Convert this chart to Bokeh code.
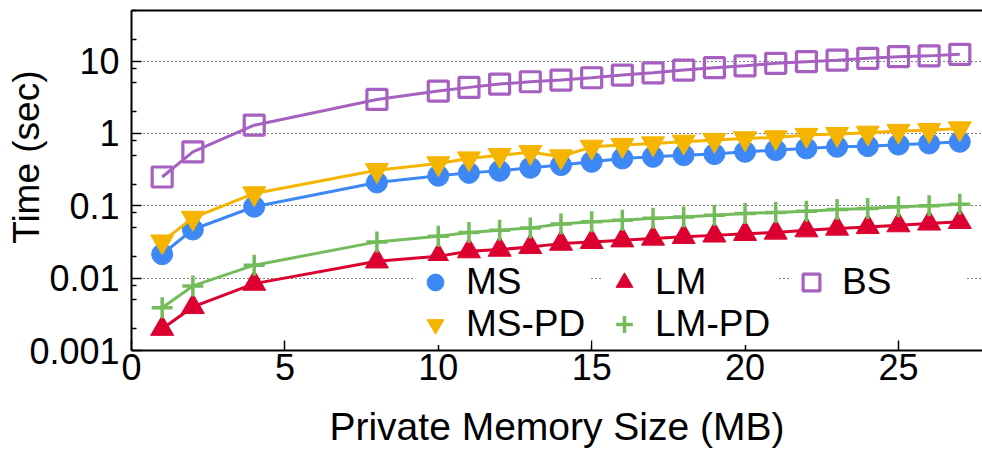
from bokeh.plotting import figure
from bokeh.models import Range1d, FixedTicker, LinearAxis, Legend, LegendItem, Title
from bokeh.embed import file_html
from bokeh.resources import INLINE

# ---- data ----
x_mb = [1, 2, 4, 8, 10, 11, 12, 13, 14, 15, 16, 17, 18, 19, 20, 21, 22, 23, 24, 25, 26, 27]
ms = [0.0214, 0.047, 0.097, 0.21, 0.26, 0.285, 0.304, 0.335, 0.365, 0.405, 0.45,
      0.475, 0.50, 0.518, 0.557, 0.588, 0.62, 0.653, 0.667, 0.70, 0.726, 0.766]
ms_pd = [0.032, 0.068, 0.148, 0.31, 0.385, 0.45, 0.50, 0.55, 0.48, 0.653, 0.69,
         0.726, 0.766, 0.81, 0.853, 0.88, 0.95, 0.98, 1.02, 1.08, 1.11, 1.17]
lm = [0.0020, 0.0040, 0.0084, 0.0171, 0.020, 0.0236, 0.0248, 0.027, 0.030, 0.0317, 0.0334,
      0.0353, 0.0372, 0.039, 0.041, 0.0427, 0.046, 0.0485, 0.051, 0.054, 0.057, 0.060]
lm_pd = [0.0039, 0.0078, 0.0151, 0.0317, 0.038, 0.0427, 0.046, 0.0495, 0.056, 0.060, 0.063,
         0.067, 0.070, 0.074, 0.078, 0.081, 0.084, 0.089, 0.092, 0.097, 0.100, 0.105]
bs = [0.25, 0.557, 1.30, 2.95, 3.85, 4.33, 4.81, 5.18, 5.46, 5.88, 6.4,
      6.88, 7.5, 8.1, 8.6, 9.3, 9.8, 10.3, 10.9, 11.5, 11.8, 12.4]

series_names = ["MS", "MS-PD", "LM", "LM-PD", "BS"]
x_ticks = [0, 5, 10, 15, 20, 25]
y_ticks = [0.001, 0.01, 0.1, 1, 10]
y_tick_labels = ["0.001", "0.01", "0.1", "1", "10"]
y_minor_ticks = [0.002, 0.005, 0.008, 0.02, 0.05, 0.08, 0.2, 0.5, 0.8,
                 2, 5, 8, 20, 50]
x_label = "Private Memory Size (MB)"
y_label = "Time (sec)"

FONT = "Liberation Sans"
FS_TICK = "36px"
FS_LEG = "37px"
FS_XLAB = "39px"
FS_YLAB = "37px"
C_MS = "#3d88f5"
C_MSPD = "#f5b400"
C_LM = "#dc0030"
C_LMPD = "#74bc5b"
C_BS = "#a660c0"

p = figure(width=982, height=450, output_backend="svg", toolbar_location=None,
           x_range=Range1d(0, 27.74), y_range=Range1d(0.001, 50), y_axis_type="log",
           min_border_left=131, min_border_right=0, min_border_top=10, min_border_bottom=100)
p.outline_line_color = None
p.background_fill_color = "white"
p.border_fill_color = "white"

# x axis
xa = p.xaxis[0]
xa.ticker = FixedTicker(ticks=x_ticks)
xa.major_tick_in = 10
xa.major_tick_out = 0
xa.minor_tick_in = 0
xa.minor_tick_out = 0
xa.major_tick_line_width = 1.5
xa.major_tick_line_color = "black"
xa.axis_line_width = 2
xa.axis_line_color = "black"
xa.major_label_standoff = 3
xa.major_label_text_font = FONT
xa.major_label_text_font_size = FS_TICK
xa.major_label_text_color = "black"
xa.axis_label = x_label
xa.axis_label_text_font = FONT
xa.axis_label_text_font_size = FS_XLAB
xa.axis_label_text_font_style = "normal"
xa.axis_label_text_color = "black"
xa.axis_label_text_line_height = 1.0
xa.axis_label_standoff = 22

# y axis
ya = p.yaxis[0]
ya.ticker = FixedTicker(ticks=y_ticks, minor_ticks=y_minor_ticks)
ya.major_label_overrides = dict(zip(y_ticks, y_tick_labels))
ya.major_tick_in = 10
ya.major_tick_out = 0
ya.minor_tick_in = 5
ya.minor_tick_out = 0
ya.major_tick_line_width = 1.5
ya.minor_tick_line_width = 1.5
ya.major_tick_line_color = "black"
ya.minor_tick_line_color = "black"
ya.axis_line_width = 2
ya.axis_line_color = "black"
ya.major_label_standoff = 12
ya.major_label_text_font = FONT
ya.major_label_text_font_size = FS_TICK
ya.major_label_text_color = "black"

# top border
top = LinearAxis(ticker=FixedTicker(ticks=[]), major_tick_in=0, major_tick_out=0,
                 minor_tick_in=0, minor_tick_out=0, major_label_standoff=0,
                 axis_line_width=2, axis_line_color="black",
                 major_label_text_font_size="0px")
p.add_layout(top, "above")

# grid
p.xgrid.grid_line_color = None
p.ygrid.grid_line_color = "black"
p.ygrid.grid_line_dash = "1 3"
p.ygrid.grid_line_width = 1.2

# series
p.line(x_mb, ms, line_color=C_MS, line_width=3)
s_ms = p.scatter(x_mb, ms, marker="circle", size=21, fill_color=C_MS, line_color=C_MS)

p.line(x_mb, ms_pd, line_color=C_MSPD, line_width=3)
s_mspd = p.scatter(x_mb, ms_pd, marker="inverted_triangle", size=23, fill_color=C_MSPD, line_color=C_MSPD)

p.line(x_mb, lm, line_color=C_LM, line_width=3)
s_lm = p.scatter(x_mb, lm, marker="triangle", size=23, fill_color=C_LM, line_color=C_LM)

p.line(x_mb, lm_pd, line_color=C_LMPD, line_width=3)
s_lmpd = p.scatter(x_mb, lm_pd, marker="cross", size=21, fill_color=None, line_color=C_LMPD, line_width=3.5)

p.line(x_mb, bs, line_color=C_BS, line_width=3)
s_bs = p.scatter(x_mb, bs, marker="square", size=20, fill_color=None, line_color=C_BS, line_width=3.2)

renderers = [s_ms, s_mspd, s_lm, s_lmpd, s_bs]
rmap = dict(zip(series_names, renderers))


def make_legend(names, loc, label_width):
    return Legend(items=[LegendItem(label=n, renderers=[rmap[n]]) for n in names],
                  location=loc, orientation="vertical", padding=5, margin=0, spacing=0,
                  glyph_width=44, glyph_height=42, label_standoff=9, label_width=label_width,
                  label_text_font=FONT, label_text_font_size=FS_LEG, label_text_color="black",
                  border_line_color=None, background_fill_color="white",
                  background_fill_alpha=1.0)


p.add_layout(make_legend(["MS", "MS-PD"], (282, 5), 125))
p.add_layout(make_legend(["LM", "LM-PD"], (471, 5), 123))
p.add_layout(make_legend(["BS"], (658, 47), 123))

# y axis title, placed in the left border so it can sit above the wide tick labels
ytitle = Title(text=y_label, align="right", vertical_align="middle", offset=60,
               standoff=-45, text_font=FONT, text_font_size=FS_YLAB,
               text_font_style="normal", text_color="black")
p.add_layout(ytitle, "left")

open("out.html", "w").write(file_html(p, INLINE))
